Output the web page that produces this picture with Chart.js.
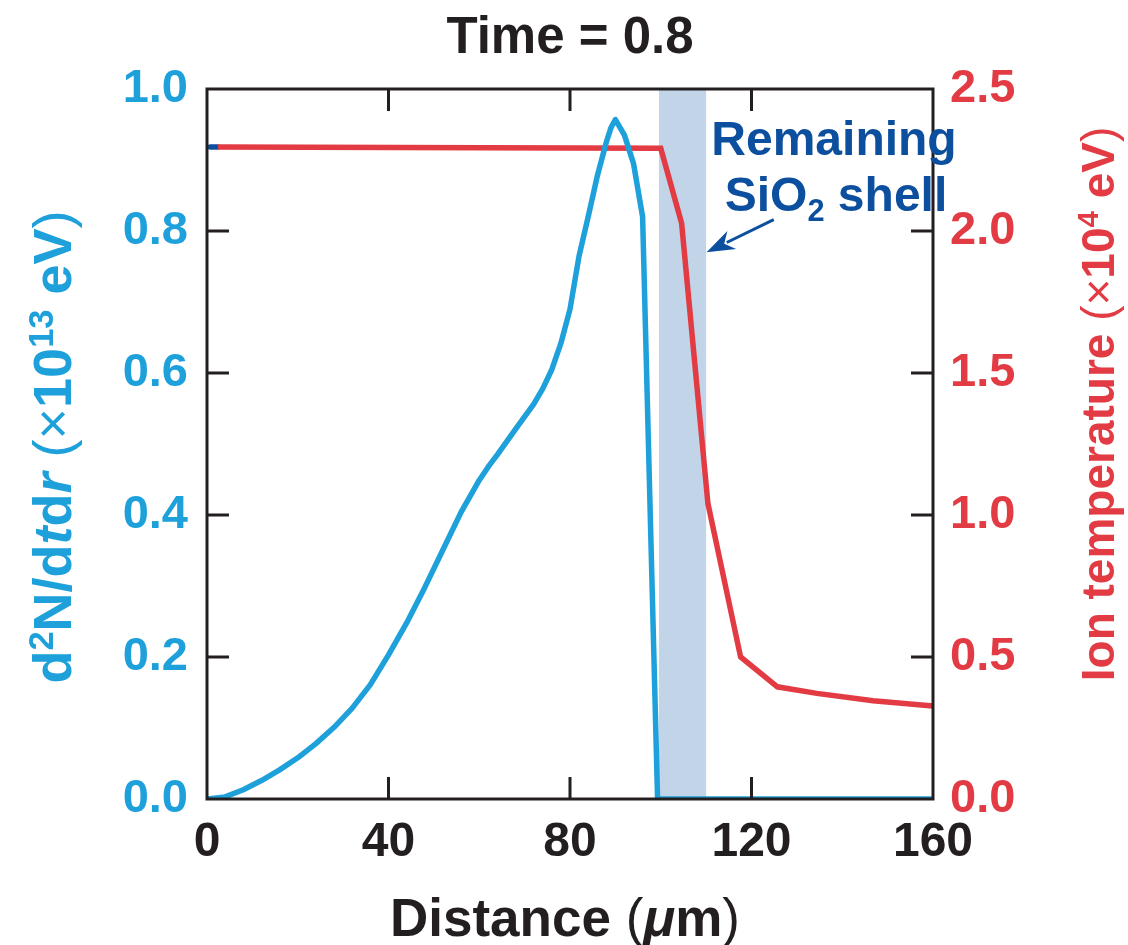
<!DOCTYPE html>
<html>
<head>
<meta charset="utf-8">
<script src="https://cdn.jsdelivr.net/npm/chart.js@4.4.0/dist/chart.umd.min.js"></script>
<style>
  html, body { margin: 0; padding: 0; background: #fff; }
  #wrap { width: 1128px; height: 945px; }
</style>
</head>
<body>
<div id="wrap"><canvas id="chart" width="1128" height="945"></canvas></div>
<script>
// data
const distBlue = [0, 4, 8, 12, 16, 20, 24, 28, 32, 36, 40, 44, 48, 52, 56, 60, 62, 64, 68, 72, 74, 76, 78, 80, 82, 84, 86, 88, 89, 90, 92, 94, 96, 99.3, 160];
const rateBlue = [0, 0.003, 0.013, 0.026, 0.041, 0.058, 0.078, 0.101, 0.128, 0.161, 0.203, 0.248, 0.298, 0.351, 0.404, 0.449, 0.468, 0.485, 0.521, 0.556, 0.578, 0.605, 0.642, 0.69, 0.765, 0.82, 0.877, 0.925, 0.945, 0.957, 0.935, 0.895, 0.82, 0, 0];

const distRed = [2.4, 100, 104.6, 110.4, 117.6, 125.7, 134.4, 146.8, 160];
const tempRed = [2.296, 2.291, 2.027, 1.04, 0.50, 0.395, 0.372, 0.346, 0.327];

const distStub = [0.7, 2.4];
const tempStub = [2.296, 2.296];

const shellZone = [99.6, 110];
const xTicks = [0, 40, 80, 120, 160];
const leftTicks = [0, 0.2, 0.4, 0.6, 0.8, 1.0];
const rightTicks = [0, 0.5, 1.0, 1.5, 2.0, 2.5];

const BLUE = '#1ea0db', RED = '#e23b43', NAVY = '#0b4f9e', INK = '#231f20', BAND = '#c1d4e8';
const FONT = '"Liberation Sans", Arial, Helvetica, sans-serif';

Chart.defaults.font.family = FONT;

const pts = (xs, ys) => xs.map((x, i) => ({ x: x, y: ys[i] }));

// draws text made of styled pieces: [text, weight, italic, shift('sup'|'sub'|'')]
function richWidth(ctx, parts, size) {
  let w = 0;
  parts.forEach(p => {
    const s = p[3] ? size * 0.64 : size;
    ctx.font = (p[2] ? 'italic ' : '') + p[1] + ' ' + s + 'px ' + FONT;
    w += ctx.measureText(p[0]).width;
  });
  return w;
}
function richDraw(ctx, parts, size, cx, cy, rot, color) {
  ctx.save();
  ctx.translate(cx, cy);
  ctx.rotate(rot);
  ctx.fillStyle = color;
  ctx.textBaseline = 'alphabetic';
  ctx.textAlign = 'left';
  let x = -richWidth(ctx, parts, size) / 2;
  parts.forEach(p => {
    const s = p[3] ? size * 0.64 : size;
    ctx.font = (p[2] ? 'italic ' : '') + p[1] + ' ' + s + 'px ' + FONT;
    let dy = 0;
    if (p[3] === 'sup') dy = -size * 0.34;
    if (p[3] === 'sub') dy = size * 0.2;
    ctx.fillText(p[0], x, dy);
    x += ctx.measureText(p[0]).width;
  });
  ctx.restore();
}

const decor = {
  id: 'decor',
  beforeDatasetsDraw(chart) {
    const { ctx, chartArea: a, scales: { x } } = chart;
    const x0 = x.getPixelForValue(shellZone[0]);
    const x1 = x.getPixelForValue(shellZone[1]);
    ctx.save();
    ctx.fillStyle = BAND;
    ctx.fillRect(x0, a.top, x1 - x0, a.bottom - a.top);
    ctx.restore();
  },
  afterDatasetsDraw(chart) {
    const { ctx, chartArea: a, scales: { x, y, y2 } } = chart;
    const tl = 22;
    ctx.save();
    ctx.strokeStyle = INK;
    ctx.lineWidth = 3;
    ctx.strokeRect(a.left, a.top, a.right - a.left, a.bottom - a.top);
    ctx.beginPath();
    xTicks.slice(1, -1).forEach(v => {
      const px = x.getPixelForValue(v);
      ctx.moveTo(px, a.bottom); ctx.lineTo(px, a.bottom - tl);
      ctx.moveTo(px, a.top); ctx.lineTo(px, a.top + tl);
    });
    leftTicks.slice(1, -1).forEach(v => {
      const py = y.getPixelForValue(v);
      ctx.moveTo(a.left, py); ctx.lineTo(a.left + tl, py);
    });
    rightTicks.slice(1, -1).forEach(v => {
      const py = y2.getPixelForValue(v);
      ctx.moveTo(a.right, py); ctx.lineTo(a.right - tl, py);
    });
    ctx.stroke();
    ctx.restore();
  },
  afterDraw(chart) {
    const { ctx, scales: { x, y } } = chart;

    richDraw(ctx, [['Time = 0.8', 'bold']], 51, 570, 53, 0, INK);

    richDraw(ctx, [['Distance ', 'bold'], ['(', 'normal'], ['\u03bc', 'bold', true], ['m', 'bold'], [')', 'normal']],
      53, 565, 936, 0, INK);

    richDraw(ctx, [['d', 'bold'], ['2', 'bold', false, 'sup'], ['N/d', 'bold'], ['t', 'bold', true], ['d', 'bold'],
      ['r', 'bold', true], [' ', 'bold'], ['(\u00d7', 'normal'], ['10', 'bold'], ['13', 'bold', false, 'sup'],
      [' eV', 'bold'], [')', 'normal']], 54, 71, 447, -Math.PI / 2, BLUE);

    richDraw(ctx, [['Ion temperature ', 'bold'], ['(\u00d7', 'normal'], ['10', 'bold'], ['4', 'bold', false, 'sup'],
      [' eV', 'bold'], [')', 'normal']], 46, 1114, 404, -Math.PI / 2, RED);

    // annotation
    richDraw(ctx, [['Remaining', 'bold']], 48, 834, 155, 0, NAVY);
    richDraw(ctx, [['SiO', 'bold'], ['2', 'bold', false, 'sub'], [' shell', 'bold']], 48, 836, 211, 0, NAVY);

    const ax0 = x.getPixelForValue(124.9), ay0 = y.getPixelForValue(0.816);
    const ax1 = x.getPixelForValue(110.1), ay1 = y.getPixelForValue(0.77);
    const ang = Math.atan2(ay1 - ay0, ax1 - ax0);
    const hl = 28, hw = 10;
    ctx.save();
    ctx.strokeStyle = NAVY;
    ctx.fillStyle = NAVY;
    ctx.lineWidth = 3;
    ctx.beginPath();
    ctx.moveTo(ax0, ay0);
    ctx.lineTo(ax1 - Math.cos(ang) * hl * 0.8, ay1 - Math.sin(ang) * hl * 0.8);
    ctx.stroke();
    ctx.beginPath();
    ctx.moveTo(ax1, ay1);
    ctx.lineTo(ax1 - Math.cos(ang) * hl - Math.sin(ang) * hw, ay1 - Math.sin(ang) * hl + Math.cos(ang) * hw);
    ctx.lineTo(ax1 - Math.cos(ang) * hl * 0.7, ay1 - Math.sin(ang) * hl * 0.7);
    ctx.lineTo(ax1 - Math.cos(ang) * hl + Math.sin(ang) * hw, ay1 - Math.sin(ang) * hl - Math.cos(ang) * hw);
    ctx.closePath();
    ctx.fill();
    ctx.restore();
  }
};

new Chart(document.getElementById('chart'), {
  type: 'line',
  data: {
    datasets: [
      {
        label: 'd2N/dtdr',
        data: pts(distBlue, rateBlue),
        yAxisID: 'y',
        borderColor: BLUE,
        borderWidth: 5.5,
        borderJoinStyle: 'round',
        pointRadius: 0,
        tension: 0,
        fill: false
      },
      {
        label: 'Ion temperature',
        data: pts(distRed, tempRed),
        yAxisID: 'y2',
        borderColor: RED,
        borderWidth: 5.5,
        pointRadius: 0,
        tension: 0,
        fill: false
      },
      {
        label: 'stub',
        data: pts(distStub, tempStub),
        yAxisID: 'y2',
        borderColor: NAVY,
        borderWidth: 5.5,
        borderCapStyle: 'round',
        pointRadius: 0,
        fill: false
      }
    ]
  },
  options: {
    responsive: false,
    animation: false,
    devicePixelRatio: 1,
    layout: { padding: { top: 89, left: 0, right: 0, bottom: 0 } },
    plugins: { legend: { display: false }, tooltip: { enabled: false } },
    scales: {
      x: {
        type: 'linear',
        min: 0, max: 160,
        afterFit: s => { s.height = 146; },
        afterBuildTicks: s => { s.ticks = xTicks.map(v => ({ value: v })); },
        grid: { display: false, drawTicks: false },
        border: { display: false },
        ticks: { color: INK, padding: 15, font: { size: 48, weight: 'bold' }, maxRotation: 0 }
      },
      y: {
        type: 'linear',
        position: 'left',
        min: 0, max: 1,
        afterFit: s => { s.width = 207; },
        afterBuildTicks: s => { s.ticks = leftTicks.map(v => ({ value: v })); },
        grid: { display: false, drawTicks: false },
        border: { display: false },
        ticks: { color: BLUE, padding: 19, font: { size: 47, weight: 'bold' }, callback: v => v.toFixed(1) }
      },
      y2: {
        type: 'linear',
        position: 'right',
        min: 0, max: 2.5,
        afterFit: s => { s.width = 195; },
        afterBuildTicks: s => { s.ticks = rightTicks.map(v => ({ value: v })); },
        grid: { display: false, drawTicks: false },
        border: { display: false },
        ticks: { color: RED, padding: 17, font: { size: 47, weight: 'bold' }, callback: v => v.toFixed(1) }
      }
    }
  },
  plugins: [decor]
});
</script>
</body>
</html>
